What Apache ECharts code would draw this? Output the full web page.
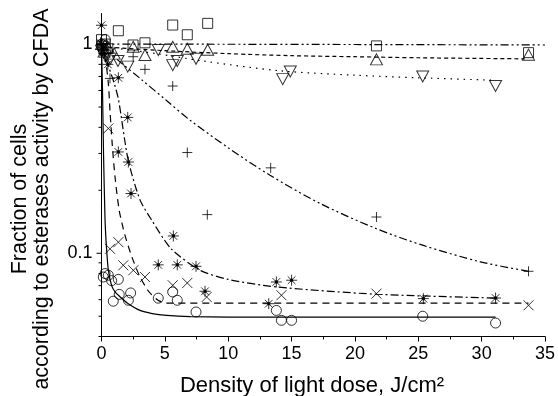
<!DOCTYPE html>
<html>
<head>
<meta charset="utf-8">
<title>CFDA</title>
<style>
  html, body { margin: 0; padding: 0; background: #fff; }
  #main { width: 558px; height: 396px; }
</style>
<script src="https://cdn.jsdelivr.net/npm/echarts@6/dist/echarts.min.js"></script>
</head>
<body>
<div id="main"></div>
<script>
// tick values
var xTicks = [0, 5, 10, 15, 20, 25, 30, 35];
var yMajor = [0.1, 1];
var yMinor = [0.04, 0.05, 0.06, 0.07, 0.08, 0.09, 0.2, 0.3, 0.4, 0.5, 0.6, 0.7, 0.8, 0.9];

// squares
var sqX = [0, 0.1, 0.3, 0.5, 1.33, 2.49, 3.43, 5.62, 6.77, 8.38, 21.7, 33.7];
var sqY = [1.05, 0.98, 1.0, 0.95, 1.158, 0.99, 1.014, 1.233, 1.108, 1.256, 0.98, 0.91];
var sqFitX = [0, 10, 20, 35];
var sqFitY = [1.0, 0.998, 0.995, 0.99];

// triangles up
var tuX = [0, 0.2, 0.5, 1.0, 2.5, 3.43, 5.62, 6.77, 8.38, 21.7, 33.7];
var tuY = [1.0, 0.92, 0.97, 0.9, 0.97, 0.886, 0.97, 0.95, 0.94, 0.845, 0.89];
var tuFitX = [0, 5, 10, 15, 20, 25, 33.4];
var tuFitY = [0.97, 0.93, 0.9, 0.88, 0.87, 0.86, 0.85];

// triangles down
var tdX = [0, 0.3, 0.7, 1.3, 2.07, 4.48, 5.62, 5.98, 7.46, 14.3, 14.9, 25.35, 31.1];
var tdY = [0.93, 0.88, 0.85, 0.83, 0.78, 0.936, 0.793, 0.83, 0.85, 0.68, 0.74, 0.70, 0.63];
var tdFitX = [0, 2, 4.35, 8, 14.1, 20, 25, 30.9];
var tdFitY = [0.98, 0.94, 0.9, 0.83, 0.745, 0.71, 0.69, 0.672];

// plus
var plX = [0, 0.2, 0.67, 2.5, 3.43, 5.62, 6.77, 8.35, 13.35, 21.7, 33.7];
var plY = [1.0, 0.9, 0.685, 0.87, 0.757, 0.63, 0.303, 0.153, 0.256, 0.149, 0.082];
var plFitX = [0, 1.3, 3.2, 5.15, 6.98, 10.14, 13.3, 17.25, 21.7, 25.4, 29.9, 33.7];
var plFitY = [0.99, 0.838, 0.673, 0.536, 0.433, 0.315, 0.236, 0.173, 0.131, 0.109, 0.091, 0.082];

// asterisks
var asX = [0, 0, 0.2, 0.5, 1.33, 1.33, 2.07, 2.12, 2.33, 4.48, 5.67, 5.98, 7.46, 8.17, 13.2, 13.8, 15.0, 25.4, 31.1];
var asY = [1.23, 1.0, 0.9, 0.8, 0.69, 0.305, 0.446, 0.273, 0.193, 0.088, 0.121, 0.088, 0.0866, 0.0658, 0.0574, 0.0729, 0.0743, 0.0607, 0.0611];
var asFitX = [0, 0.5, 1.0, 1.35, 2.1, 3.04, 3.96, 5.5, 7.77, 10, 13.8, 21.7, 31.3];
var asFitY = [1.0, 0.8, 0.65, 0.54, 0.28, 0.18, 0.144, 0.105, 0.083, 0.075, 0.069, 0.0637, 0.061];

// crosses
var crX = [0, 0.2, 0.54, 0.67, 1.33, 1.72, 2.51, 3.43, 5.62, 6.77, 8.3, 14.2, 21.7, 33.7];
var crY = [1.0, 0.92, 0.395, 0.105, 0.113, 0.0876, 0.0829, 0.077, 0.0703, 0.0721, 0.0618, 0.063, 0.0641, 0.0564];
var crFitX = [0, 0.3, 0.54, 0.67, 0.85, 1.07, 1.4, 1.85, 2.4, 3.0, 3.7, 4.4, 5.1, 33.7];
var crFitY = [1.0, 0.85, 0.65, 0.48, 0.33, 0.231, 0.16, 0.122, 0.096, 0.078, 0.066, 0.06, 0.0578, 0.0578];

// circles
var ciX = [0, 0.15, 0.3, 0.14, 0.28, 0.54, 0.8, 0.93, 1.33, 1.4, 2.12, 2.3, 4.48, 5.62, 5.98, 7.46, 13.8, 14.2, 15.0, 25.35, 31.1];
var ciY = [1.0, 0.93, 1.05, 0.077, 0.08, 0.0785, 0.074, 0.059, 0.075, 0.0636, 0.0596, 0.0646, 0.061, 0.0653, 0.0596, 0.0524, 0.0533, 0.0478, 0.0478, 0.05, 0.0464];
var ciFitX = [0, 0.08, 0.16, 0.28, 0.4, 0.54, 0.8, 1.1, 1.46, 2.0, 3.04, 4.0, 5.15, 7, 10, 31.1];
var ciFitY = [1.0, 0.6, 0.3, 0.144, 0.105, 0.083, 0.07, 0.065, 0.062, 0.058, 0.0533, 0.0515, 0.0505, 0.0498, 0.0495, 0.0495];

function pairs(xs, ys) {
    var out = [];
    for (var i = 0; i < xs.length; i++) out.push([xs[i], ys[i]]);
    return out;
}

var FONT = '"Liberation Sans", Arial, Helvetica, sans-serif';
var CLEAR = 'rgba(0,0,0,0)';

function marks(name, xs, ys, symbol, size, fill, rotate) {
    return {
        name: name, type: 'scatter', data: pairs(xs, ys),
        symbol: symbol, symbolSize: size, symbolRotate: rotate || 0,
        itemStyle: { color: fill, borderColor: '#000', borderWidth: 1 },
        emphasis: { disabled: true }, z: 3
    };
}

function fit(xs, ys, dash, smooth) {
    return {
        type: 'line', data: pairs(xs, ys), symbol: 'none',
        smooth: smooth,
        lineStyle: { color: '#000', width: 1.2, type: dash },
        emphasis: { disabled: true }, z: 2
    };
}

function yTicks(vals, len) {
    return {
        type: 'custom', data: vals.map(function (v) { return [0, v]; }),
        clip: false, silent: true, z: 4,
        renderItem: function (params, api) {
            var p = api.coord([api.value(0), api.value(1)]);
            return {
                type: 'line',
                shape: { x1: p[0] - len, y1: p[1], x2: p[0], y2: p[1] },
                style: { stroke: '#000', lineWidth: 1 }
            };
        }
    };
}

var myChart = echarts.init(document.getElementById('main'), null, { renderer: 'canvas' });

var option = {
    animation: false,
    backgroundColor: '#fff',
    grid: { left: 101.5, right: 13, top: 13.5, bottom: 59.5 },
    xAxis: {
        type: 'value', min: xTicks[0], max: xTicks[xTicks.length - 1], interval: 5,
        axisLine: { lineStyle: { color: '#000', width: 1 } },
        axisTick: { length: 5, lineStyle: { color: '#000' } },
        minorTick: { show: true, splitNumber: 2, length: 3, lineStyle: { color: '#000' } },
        splitLine: { show: false },
        axisLabel: { color: '#000', fontSize: 18, fontFamily: FONT, margin: 9 }
    },
    yAxis: {
        type: 'log', logBase: 10, min: 0.04, max: 1.4,
        axisLine: { show: true, lineStyle: { color: '#000', width: 1 } },
        axisTick: { show: false },
        splitLine: { show: false },
        axisLabel: {
            color: '#000', fontSize: 18, fontFamily: FONT, margin: 9,
            showMinLabel: false, showMaxLabel: false,
            formatter: function (v) {
                for (var i = 0; i < yMajor.length; i++) {
                    if (Math.abs(v - yMajor[i]) < 1e-6) return String(yMajor[i]);
                }
                return '';
            }
        }
    },
    graphic: [
        {
            type: 'text', x: 31, y: 199, rotation: Math.PI / 2,
            style: {
                text: 'Fraction of cells\naccording to esterases activity by CFDA',
                font: '21.5px ' + FONT, fill: '#000',
                textAlign: 'center', textVerticalAlign: 'middle', lineHeight: 22
            }
        },
        {
            type: 'text', x: 312, y: 386,
            style: {
                text: 'Density of light dose, J/cm\u00b2',
                font: '22px ' + FONT, fill: '#000',
                textAlign: 'center', textVerticalAlign: 'middle'
            }
        }
    ],
    series: [
        fit(sqFitX, sqFitY, [8, 3, 2, 3, 2, 3], 0.3),
        fit(tuFitX, tuFitY, [4, 3], 0.3),
        fit(tdFitX, tdFitY, [1.5, 5], 0.3),
        fit(plFitX, plFitY, [8, 3, 2, 3, 2, 3], 0.3),
        fit(asFitX, asFitY, [8, 3, 2, 3], 0.25),
        fit(crFitX, crFitY, [7, 5], 0.25),
        fit(ciFitX, ciFitY, 'solid', 0.2),
        marks('squares', sqX, sqY, 'rect', 10, CLEAR),
        marks('up', tuX, tuY, 'triangle', [12, 11], CLEAR),
        marks('down', tdX, tdY, 'triangle', [12, 11], CLEAR, 180),
        marks('plus', plX, plY, 'path://M5,0L5,10M0,5L10,5', 10, CLEAR),
        marks('asterisk', asX, asY, 'path://M5,0L5,10M0,5L10,5M1.5,1.5L8.5,8.5M8.5,1.5L1.5,8.5M4,4L6,4L6,6L4,6Z', 11, '#000'),
        marks('cross', crX, crY, 'path://M0,0L10,10M10,0L0,10', 10, CLEAR),
        marks('circles', ciX, ciY, 'circle', 10, CLEAR),
        yTicks(yMajor, 5),
        yTicks(yMinor, 3)
    ]
};
myChart.setOption(option);
</script>
</body>
</html>
